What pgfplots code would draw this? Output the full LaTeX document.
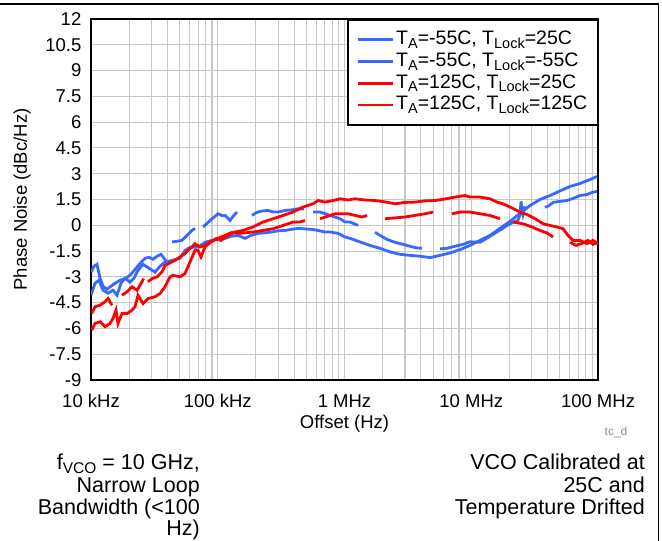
\documentclass[border=0pt]{standalone}
\usepackage{fontspec}
\setmainfont{Liberation Sans}
\usepackage{pgfplots}
\pgfplotsset{compat=1.18}
\definecolor{cblue}{RGB}{55,105,255}
\definecolor{cred}{RGB}{255,0,0}
\definecolor{cgrid}{RGB}{200,200,200}
\newcommand{\fnt}{\fontsize{18.5}{22}\selectfont}
\newcommand{\lfnt}{\fontsize{19.5}{22}\selectfont}
\newcommand{\bfnt}{\fontsize{21.5}{22.5}\selectfont}
\newcommand{\lsub}[1]{\raisebox{-3.5pt}{\fontsize{14.5}{14.5}\selectfont #1}}
\newcommand{\bsub}[1]{\raisebox{-3.8pt}{\fontsize{15.5}{15.5}\selectfont #1}}
\begin{document}
\begin{tikzpicture}[x=1pt,y=1pt]
\useasboundingbox (0,0) rectangle (662,541);
\draw[line width=1.2pt] (0,537) -- (658.5,537) -- (658.5,0);
\begin{axis}[
  at={(91pt,161pt)}, anchor=south west,
  scale only axis, width=507pt, height=361pt,
  xmode=log, xmin=1e4, xmax=1e8, ymin=-9, ymax=12,
  xtick={1e4,1e5,1e6,1e7,1e8},
  xticklabels={10 kHz,100 kHz,1 MHz,10 MHz,100 MHz},
  minor xtick={2e4,3e4,4e4,5e4,6e4,7e4,8e4,9e4,2e5,3e5,4e5,5e5,6e5,7e5,8e5,9e5,2e6,3e6,4e6,5e6,6e6,7e6,8e6,9e6,2e7,3e7,4e7,5e7,6e7,7e7,8e7,9e7},
  ytick={-9,-7.5,-6,-4.5,-3,-1.5,0,1.5,3,4.5,6,7.5,9,10.5,12},
  yticklabels={-9,-7.5,-6,-4.5,-3,-1.5,0,1.5,3,4.5,6,7.5,9,10.5,12},
  /pgf/number format/assume math mode=true,
  grid=both,
  major grid style={draw=cgrid, line width=1.1pt},
  minor grid style={draw=cgrid, line width=1.1pt},
  major tick length=0pt, minor tick length=0pt,
  axis line style={line width=2.4pt, black},
  tick label style={font=\fnt},
  xticklabel style={anchor=base, inner sep=0pt, yshift=-27.6pt},
  yticklabel style={anchor=east, inner sep=0pt, xshift=-9.5pt},
  label style={font=\fnt},
  xlabel={Offset (Hz)},
  ylabel={Phase Noise (dBc/Hz)},
  xlabel style={at={(axis description cs:0.5,0)}, anchor=base, yshift=-48.6pt},
  ylabel style={at={(axis description cs:-0.136,0.5)}, anchor=center},
  unbounded coords=jump,
  legend cell align=left,
  legend image code/.code={\draw[#1, line width=2.8pt] (0pt,0pt) -- (35pt,0pt);},
  legend style={at={(axis description cs:1,1)}, anchor=north east, xshift=2pt,
    draw=black, line width=2pt, inner sep=9pt, fill=white,
    font=\lfnt, row sep=0pt, xshift=-1pt,
    nodes={inner sep=1.85pt, text height=14pt, text depth=4pt}},
]
% Blue, continuous
\addplot[cblue, line width=2.8pt] coordinates {
(1.00e4,-4.07) (1.075e4,-3.37) (1.157e4,-3.20) (1.244e4,-3.78) (1.362e4,-3.95)
(1.492e4,-3.78) (1.604e4,-4.07) (1.725e4,-3.37) (1.855e4,-3.08) (2.031e4,-3.31)
(2.184e4,-3.08) (2.349e4,-2.62) (2.573e4,-2.27) (2.869e4,-2.50) (3.199e4,-2.73)
(3.503e4,-2.38) (3.836e4,-2.15) (4.356e4,-2.04) (5.037e4,-1.92) (5.516e4,-1.46)
(6.040e4,-1.28) (6.986e4,-1.28) (7.932e4,-0.99) (9.008e4,-0.88) (1.005e5,-0.82)
(1.141e5,-0.76) (1.272e5,-0.64) (1.445e5,-0.59) (1.641e5,-0.76) (1.830e5,-0.59)
(2.078e5,-0.47) (2.359e5,-0.44) (2.679e5,-0.39) (2.988e5,-0.32) (3.394e5,-0.30)
(3.785e5,-0.24) (4.297e5,-0.18) (4.880e5,-0.21) (5.540e5,-0.24) (6.178e5,-0.30)
(7.018e5,-0.39) (7.686e5,-0.39) (8.889e5,-0.47) (1.009e6,-0.68) (1.105e6,-0.76)
(1.326e6,-0.97) (1.589e6,-1.17) (1.906e6,-1.34) (2.286e6,-1.55) (2.741e6,-1.69)
(3.287e6,-1.75) (3.942e6,-1.80) (4.727e6,-1.88) (5.668e6,-1.75) (6.798e6,-1.61)
(8.152e6,-1.42) (9.775e6,-1.17) (1.172e7,-0.88) (1.406e7,-0.59) (1.686e7,-0.18)
(2.022e7,0.23) (2.425e7,0.69) (2.908e7,1.15) (3.487e7,1.50) (4.181e7,1.73)
(5.016e7,2.00) (6.014e7,2.26) (7.211e7,2.43) (8.650e7,2.66) (9.820e7,2.84)
};
\addlegendentry{T\lsub{A}=-55C, T\lsub{Lock}=25C}
% Blue, segmented
\addplot[cblue, line width=2.8pt] coordinates {
(1.00e4,-2.73) (1.056e4,-2.38) (1.115e4,-2.27) (1.178e4,-3.08) (1.244e4,-3.54)
(1.337e4,-3.72) (1.438e4,-3.54) (1.547e4,-3.37) (1.694e4,-3.20) (1.889e4,-3.08)
(2.069e4,-2.85) (2.265e4,-2.50) (2.481e4,-2.15) (2.667e4,-1.92) (2.869e4,-1.86)
(3.085e4,-1.98) (3.317e4,-1.80) (3.567e4,-1.69) (3.767e4,-1.92) (3.978e4,-2.15)
(4.1e4,nan)
(4.356e4,-0.97) (4.771e4,-0.93) (5.224e4,-0.88) (5.617e4,-0.64) (6.264e4,-0.30)
(6.615e4,-0.18)
(7.0e4,nan)
(7.649e4,-0.10) (8.227e4,0.11) (9.008e4,0.38) (9.513e4,0.52) (1.005e5,0.67)
(1.080e5,0.57) (1.141e5,0.57) (1.249e5,0.28) (1.319e5,0.52) (1.419e5,0.77)
(1.6e5,nan)
(1.863e5,0.57) (1.968e5,0.69) (2.078e5,0.77) (2.275e5,0.84) (2.492e5,0.86)
(2.729e5,0.78) (2.988e5,0.77) (3.394e5,0.86) (3.853e5,0.90) (4.297e5,0.96)
(4.792e5,0.95)
(5.2e5,nan)
(5.642e5,0.77) (6.410e5,0.77) (7.145e5,0.66) (7.686e5,0.57) (8.571e5,0.46)
(9.215e5,0.38) (1.009e6,0.19) (1.105e6,0.19) (1.278e6,-0.01)
(1.5e6,nan)
(1.740e6,-0.41) (1.906e6,-0.59) (2.164e6,-0.82) (2.503e6,-0.99) (2.894e6,-1.11)
(3.287e6,-1.22) (3.666e6,-1.31) (4.088e6,-1.34)
(4.9e6,nan)
(5.668e6,-1.37) (6.437e6,-1.34) (7.444e6,-1.22) (8.609e6,-1.11) (9.775e6,-0.96)
(1.172e7,-0.99) (1.406e7,-0.64) (1.717e7,-0.24) (1.915e7,-0.01) (2.135e7,0.17)
(2.338e7,0.28) (2.425e7,0.63) (2.469e7,1.39) (2.514e7,0.92) (2.560e7,0.63)
(2.655e7,1.10)
(3.2e7,nan)
(3.818e7,1.04) (4.105e7,1.15) (4.416e7,1.33) (5.016e7,1.39) (5.694e7,1.44)
(6.350e7,1.56) (7.211e7,1.73) (8.190e7,1.79) (8.970e7,1.91) (9.820e7,1.97)
};
\addlegendentry{T\lsub{A}=-55C, T\lsub{Lock}=-55C}
% Red, continuous
\addplot[cred, line width=2.8pt] coordinates {
(1.013e4,-6.10) (1.075e4,-5.71) (1.178e4,-5.61) (1.290e4,-5.90) (1.412e4,-5.71)
(1.492e4,-5.42) (1.575e4,-4.94) (1.633e4,-5.71) (1.757e4,-5.13) (1.924e4,-5.13)
(2.107e4,-4.94) (2.224e4,-4.74) (2.349e4,-4.07) (2.573e4,-4.55) (2.817e4,-4.26)
(3.199e4,-4.16) (3.503e4,-3.97) (3.836e4,-3.58) (4.201e4,-3.00) (4.436e4,-2.91)
(5.037e4,-3.00) (5.516e4,-2.81) (6.040e4,-2.13) (6.615e4,-1.46) (6.986e4,-1.46)
(7.377e4,-1.84) (7.932e4,-1.26) (8.846e4,-0.97) (9.687e4,-0.78) (1.061e5,-0.88)
(1.205e5,-0.59) (1.368e5,-0.39) (1.582e5,-0.30) (1.897e5,-0.10) (2.275e5,0.19)
(2.729e5,0.38) (3.272e5,0.57) (3.924e5,0.77) (4.706e5,1.06) (5.642e5,1.25)
(6.178e5,1.44) (7.018e5,1.35) (8.117e5,1.44) (9.215e5,1.54) (1.066e6,1.47)
(1.210e6,1.54) (1.451e6,1.47) (1.740e6,1.44) (2.087e6,1.36) (2.503e6,1.25)
(3.001e6,1.33) (3.600e6,1.35) (4.317e6,1.42) (5.176e6,1.44) (6.207e6,1.53)
(7.444e6,1.64) (8.929e6,1.73) (9.775e6,1.64) (1.172e7,1.64) (1.406e7,1.54)
(1.597e7,1.35) (1.781e7,1.25) (2.022e7,1.06) (2.296e7,0.86) (2.514e7,0.71)
(2.754e7,0.63) (3.016e7,0.48) (3.362e7,0.28) (3.682e7,0.09) (4.181e7,-0.01)
(4.749e7,-0.10) (5.297e7,-0.20) (5.799e7,-0.59) (6.350e7,-0.88) (7.211e7,-0.88)
(8.190e7,-1.07) (9.134e7,-0.88) (1.0e8,-1.07)
};
\addlegendentry{T\lsub{A}=125C, T\lsub{Lock}=25C}
% Red, segmented
\addplot[cred, line width=2.8pt] coordinates {
(1.013e4,-5.13) (1.075e4,-4.74) (1.178e4,-4.65) (1.290e4,-4.45) (1.362e4,-4.26)
(1.465e4,-4.65)
(1.6e4,nan)
(1.757e4,-4.07) (1.924e4,-3.87) (2.107e4,-3.58) (2.307e4,-3.78) (2.526e4,-3.29)
(2.60e4,-3.10)
(2.7e4,nan)
(2.817e4,-3.29) (3.029e4,-3.10) (3.317e4,-3.00) (3.633e4,-2.71) (3.836e4,-2.33)
(4.356e4,-2.13) (4.601e4,-2.04) (5.516e4,-1.65) (5.826e4,-1.46) (6.264e4,-1.26)
(6.615e4,-1.07) (7.244e4,-1.26) (7.932e4,-1.17) (8.688e4,-0.97) (9.865e4,-0.78)
(1.141e5,-0.59) (1.296e5,-0.41) (1.498e5,-0.47) (1.897e5,-0.39) (2.275e5,-0.30)
(2.729e5,-0.20) (3.272e5,-0.01) (3.924e5,0.19) (4.456e5,0.19) (4.880e5,0.28)
(5.5e5,nan)
(6.410e5,0.38) (7.686e5,0.57) (8.417e5,0.67) (1.066e6,0.67) (1.375e6,0.48)
(1.505e6,0.57)
(1.8e6,nan)
(2.087e6,0.38) (3.001e6,0.48) (4.317e6,0.67) (4.992e6,0.77)
(6.0e6,nan)
(7.050e6,0.67) (8.152e6,0.77) (9.775e6,0.77) (1.172e7,0.67) (1.406e7,0.57)
(1.686e7,0.38)
(1.9e7,nan)
(2.135e7,0.19) (2.560e7,0.09) (3.016e7,-0.10) (3.487e7,-0.30) (3.959e7,-0.45)
(4.416e7,-0.68)
(5.2e7,nan)
(6.014e7,-0.99) (6.706e7,-1.17) (7.478e7,-1.05) (8.341e7,-0.88) (9.134e7,-1.11)
(1.0e8,-0.99)
};
\addlegendentry{T\lsub{A}=125C, T\lsub{Lock}=125C}
\end{axis}
\node[font=\fontsize{12}{14}\selectfont, text=black!45, anchor=center] at (616,109) {tc\_d};
\begin{scope}[every node/.style={font=\bfnt, anchor=base east, inner sep=0pt}]
\node at (200,71.3) {f\bsub{VCO} = 10 GHz,};
\node at (200,48.3) {Narrow Loop};
\node at (200,26.3) {Bandwidth (<100};
\node at (200,5.3) {Hz)};
\node at (645,71.3) {VCO Calibrated at};
\node at (645,48.3) {25C and};
\node at (645,26.3) {Temperature Drifted};
\end{scope}
\end{tikzpicture}
\end{document}
